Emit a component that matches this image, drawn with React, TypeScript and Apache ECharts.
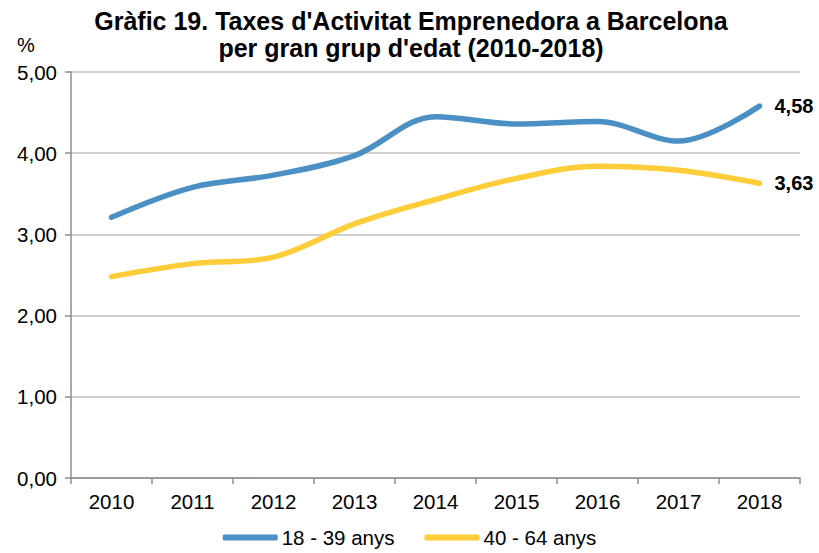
import React, { useEffect, useRef } from "react";
import * as echarts from "echarts";

const years = ["2010", "2011", "2012", "2013", "2014", "2015", "2016", "2017", "2018"];
const young = [3.21, 3.58, 3.73, 3.97, 4.45, 4.36, 4.39, 4.15, 4.58];
const older = [2.48, 2.64, 2.72, 3.13, 3.43, 3.69, 3.84, 3.79, 3.63];
const seriesNames = ["18 - 39 anys", "40 - 64 anys"];
const titleText = "Gràfic 19. Taxes d'Activitat Emprenedora a Barcelona\nper gran grup d'edat (2010-2018)";

const fmt = (v: number) => v.toFixed(2).replace(".", ",");
const FONT = "Liberation Sans, Arial, sans-serif";

export default function App() {
  const ref = useRef<HTMLDivElement>(null);
  useEffect(() => {
    if (!ref.current) return;
    const chart = echarts.init(ref.current, undefined, { renderer: "svg" });
    const endLabel = {
      show: true,
      formatter: (p: any) => fmt(p.value),
      fontSize: 20,
      fontWeight: "bold",
      color: "#000",
      distance: 15,
      fontFamily: FONT,
    };
    chart.setOption({
      animation: false,
      backgroundColor: "#ffffff",
      textStyle: { fontFamily: FONT },
      title: {
        text: titleText,
        left: 406,
        textAlign: "center",
        top: 2,
        textStyle: { fontSize: 25, fontWeight: "bold", color: "#000", lineHeight: 27, fontFamily: FONT },
      },
      graphic: [
        {
          type: "text",
          left: 17,
          top: 35,
          style: { text: "%", fontSize: 20, fill: "#000", fontFamily: FONT },
        },
      ],
      legend: {
        bottom: 0,
        left: "center",
        itemGap: 30,
        itemWidth: 55,
        itemHeight: 6,
        icon: "roundRect",
        textStyle: { fontSize: 20.5, color: "#000", fontFamily: FONT, padding: [0, 0, 0, -1] },
        data: seriesNames,
      },
      grid: { left: 71, right: 19, top: 72, bottom: 75, containLabel: false },
      xAxis: {
        type: "category",
        data: years,
        boundaryGap: true,
        axisLine: { lineStyle: { color: "#8c8c8c", width: 1.5 } },
        axisTick: { show: true, length: 6, lineStyle: { color: "#8c8c8c", width: 1.5 } },
        axisLabel: { fontSize: 20.5, color: "#000", margin: 13, fontFamily: FONT },
      },
      yAxis: {
        type: "value",
        min: 0,
        max: 5,
        interval: 1,
        axisLine: { show: true, lineStyle: { color: "#8c8c8c", width: 1.5 } },
        axisTick: { show: true, inside: false, length: 6, lineStyle: { color: "#8c8c8c", width: 1.5 } },
        axisLabel: { fontSize: 20.5, color: "#000", margin: 14, formatter: (v: number) => fmt(v), fontFamily: FONT },
        splitLine: { show: true, lineStyle: { color: "#bfbfbf", width: 1.5 } },
      },
      series: [
        {
          name: seriesNames[0],
          type: "line",
          data: young,
          smooth: 0.35,
          symbol: "none",
          color: "#4a90c4",
          lineStyle: { width: 5.5, color: "#4a90c4", cap: "round" },
          endLabel,
        },
        {
          name: seriesNames[1],
          type: "line",
          data: older,
          smooth: 0.35,
          symbol: "none",
          color: "#ffcc3a",
          lineStyle: { width: 5.5, color: "#ffcc3a", cap: "round" },
          endLabel,
        },
      ],
    });
    return () => chart.dispose();
  }, []);
  return <div ref={ref} style={{ width: 819, height: 553, position: "absolute", left: 0, top: 0 }} />;
}
